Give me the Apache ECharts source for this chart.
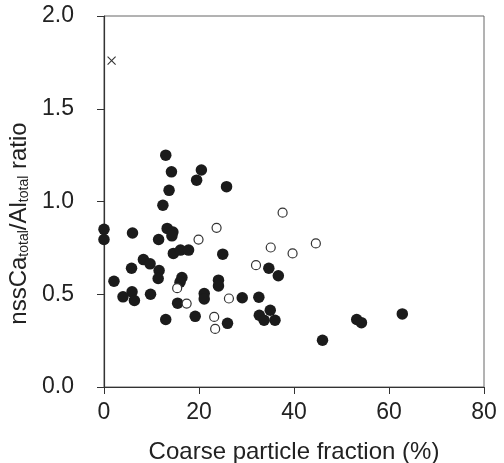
<!DOCTYPE html>
<html>
<head>
<meta charset="utf-8">
<script src="https://cdn.jsdelivr.net/npm/echarts@6/dist/echarts.min.js"></script>
<style>
html,body{margin:0;padding:0;background:#fff;}
#chart{width:504px;height:463px;}
</style>
</head>
<body>
<div id="chart"></div>
<script>
// Filled circles
var filledX = [13.0,14.2,20.5,19.5,13.7,25.8,12.4,0,0,6.0,13.3,14.5,14.3,11.5,14.6,16.1,17.8,25.0,8.3,9.7,5.8,11.6,11.4,2.1,16.4,16.0,24.1,24.1,5.9,4.0,6.4,9.8,21.1,21.1,29.1,32.6,15.5,13.0,19.2,26.0,34.7,36.7,35.0,32.7,33.7,36.0,53.2,54.2,62.8,46.0];
var filledY = [1.25,1.16,1.17,1.115,1.06,1.08,0.98,0.85,0.795,0.83,0.855,0.835,0.815,0.795,0.72,0.738,0.738,0.716,0.687,0.664,0.64,0.628,0.585,0.57,0.59,0.565,0.576,0.545,0.513,0.486,0.466,0.5,0.504,0.475,0.481,0.484,0.452,0.364,0.381,0.343,0.64,0.6,0.414,0.387,0.36,0.36,0.364,0.347,0.394,0.252];
// Open circles
var openX = [15.4,17.4,19.9,23.7,37.6,35.1,39.7,44.6,32.0,26.3,23.2,23.4];
var openY = [0.533,0.45,0.795,0.858,0.94,0.752,0.72,0.774,0.657,0.477,0.378,0.313];
// Cross marker
var crossX = [1.6];
var crossY = [1.76];
// Axis ranges
var xTicks = [0,20,40,60,80];
var yTicks = [0.0,0.5,1.0,1.5,2.0];

function pairs(xs, ys){ return xs.map(function(x,i){ return [x, ys[i]]; }); }

var font = 'Liberation Sans, Arial, sans-serif';
var chart = echarts.init(document.getElementById('chart'), null, {renderer:'canvas'});
chart.setOption({
  backgroundColor:'#fff',
  animation:false,
  grid:{left:104, right:20, top:16, bottom:76, show:true, borderColor:'#666', borderWidth:1,
        containLabel:false, outerBoundsMode:'none'},
  xAxis:{
    type:'value', min:xTicks[0], max:xTicks[xTicks.length-1], interval:20,
    name:'Coarse particle fraction (%)', nameLocation:'middle', nameGap:53,
    nameTextStyle:{fontFamily:font, fontSize:24, color:'#222'},
    axisLine:{show:true, lineStyle:{color:'#333', width:1.2}},
    axisTick:{show:true, inside:false, length:7, lineStyle:{color:'#333', width:1}},
    axisLabel:{fontFamily:font, fontSize:23, color:'#222', margin:14},
    splitLine:{show:false}
  },
  yAxis:{
    type:'value', min:yTicks[0], max:yTicks[yTicks.length-1], interval:0.5,
    name:'{a|nssCa}{s|total}{a|/Al}{s|total}{a| ratio}', nameLocation:'middle', nameGap:61,
    nameTextStyle:{fontFamily:font, color:'#222', padding:[0,44,0,0],
      rich:{
        a:{fontFamily:font, fontSize:24, color:'#222', verticalAlign:'bottom', lineHeight:26},
        s:{fontFamily:font, fontSize:14, color:'#222', verticalAlign:'bottom', lineHeight:18}
      }},
    axisLine:{show:true, lineStyle:{color:'#333', width:1.2}},
    axisTick:{show:true, inside:false, length:7, lineStyle:{color:'#333', width:1}},
    axisLabel:{fontFamily:font, fontSize:23, color:'#222', margin:30,
      formatter:function(v){ return v.toFixed(1); }},
    splitLine:{show:false}
  },
  series:[
    {type:'scatter', data:pairs(filledX, filledY), symbol:'circle', symbolSize:11.5,
     itemStyle:{color:'#1b1b1b', opacity:1}, clip:false},
    {type:'scatter', data:pairs(openX, openY), symbol:'circle', symbolSize:9,
     itemStyle:{color:'#fff', borderColor:'#333', borderWidth:1.2, opacity:1}, clip:false},
    {type:'scatter', data:pairs(crossX, crossY), symbol:'path://M0,0L10,10M10,0L0,10', symbolSize:8,
     itemStyle:{color:'none', borderColor:'#333', borderWidth:1.1, opacity:1}, clip:false}
  ]
});
</script>
</body>
</html>
